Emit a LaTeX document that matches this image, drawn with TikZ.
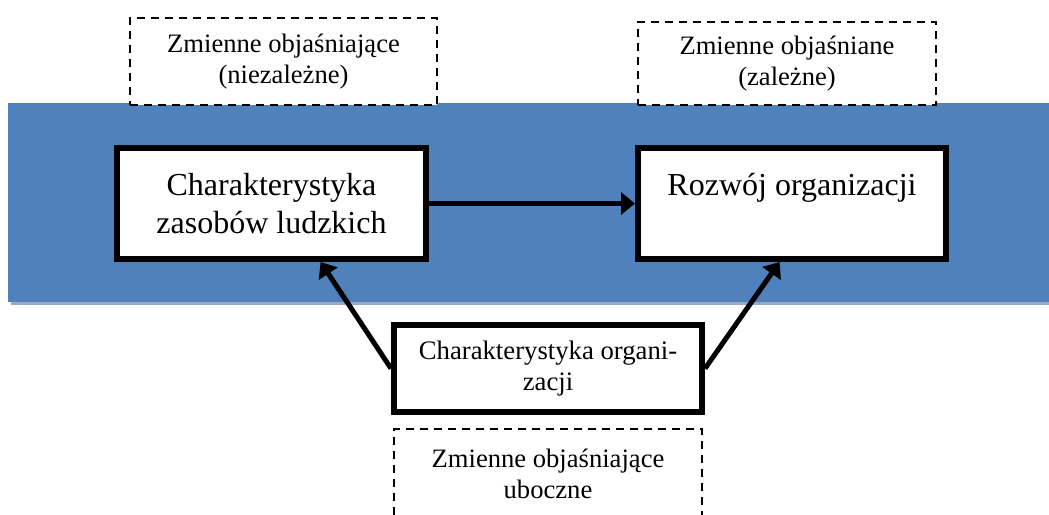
\documentclass[tikz,border=0pt]{standalone}
\usepackage{fontspec}
\setmainfont{Liberation Serif}
\usepackage{xcolor}
\usetikzlibrary{shapes,arrows.meta,arrows}
\definecolor{bandblue}{HTML}{4F81BD}
\definecolor{bandshadow}{HTML}{9AA9BF}

\begin{document}
\begin{tikzpicture}[x=1pt, y=-1pt,
    mainbox/.style={rectangle, draw, line width=6pt, fill=white, align=center, minimum height=111pt, font=\fontsize{32}{38}\selectfont},
    varbox/.style={rectangle, draw, line width=2pt, dash pattern=on 8pt off 6pt, fill=white, align=center, font=\fontsize{26.6}{31}\selectfont},
    arr/.style={line width=5pt, -{Triangle[length=14pt,width=22pt]}}]
    \useasboundingbox (0, 0) rectangle (1049, 514);
    \clip (0, 0) rectangle (1049, 514);

    \fill [bandshadow] (11, 105) rectangle (1049, 305);
    \fill [bandblue] (8, 103) rectangle (1049, 302);

    \node [mainbox, minimum width=309pt] (zasoby) at (271.5, 203.5) {Charakterystyka\\zasobów ludzkich};
    \node [mainbox, minimum width=308pt] (rozwoj) at (792, 203.5) {Rozwój organizacji\\~};
    \node [mainbox, minimum width=308pt, minimum height=87pt, font=\fontsize{26.7}{31}\selectfont] (organizacja) at (548, 368.5) {Charakterystyka organi-\\zacji};
    \node [varbox, minimum width=307pt, minimum height=87pt] (niezalezne) at (283.5, 61.5) {Zmienne objaśniające\\(niezależne)};
    \node [varbox, minimum width=298pt, minimum height=83pt] (zalezne) at (787, 63.5) {Zmienne objaśniane\\(zależne)};
    \node [varbox, minimum width=308pt, minimum height=90pt] (uboczne) at (548, 474) {Zmienne objaśniające\\uboczne};

    \draw [arr] (zasoby) -- (rozwoj);
    \draw [arr] (organizacja.west) -- (zasoby.-50);
    \draw [arr] (organizacja.east) -- (rozwoj.-102);
  \end{tikzpicture}
\end{document}
